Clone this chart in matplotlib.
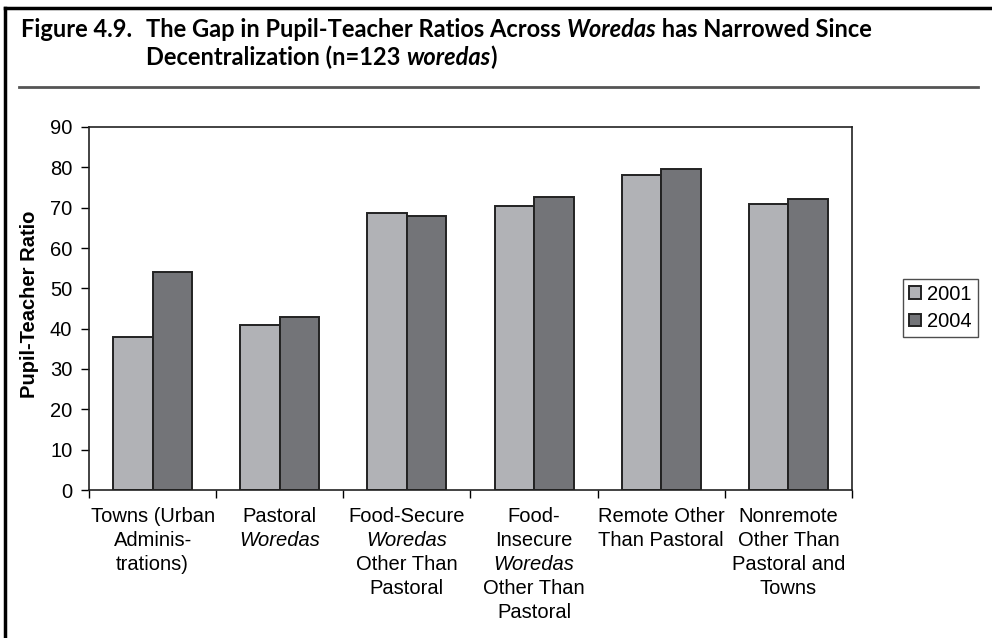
import matplotlib.pyplot as plt
from matplotlib.lines import Line2D
from matplotlib.transforms import blended_transform_factory, offset_copy

plt.rcParams['font.family'] = ['Liberation Sans', 'DejaVu Sans']

# data
categories = [
    ["Towns (Urban", "Adminis-", "trations)"],
    ["Pastoral", "*Woredas"],
    ["Food-Secure", "*Woredas", "Other Than", "Pastoral"],
    ["Food-", "Insecure", "*Woredas", "Other Than", "Pastoral"],
    ["Remote Other", "Than Pastoral"],
    ["Nonremote", "Other Than", "Pastoral and", "Towns"],
]
years = ["2001", "2004"]
ratio_2001 = [38, 41, 68.7, 70.3, 78, 71]
ratio_2004 = [54, 43, 68, 72.7, 79.7, 72.2]
yticks = list(range(0, 91, 10))

W, H = 992, 638
fig = plt.figure(figsize=(W / 100, H / 100), dpi=100)

def fx(px):
    return px / W

def fy(py):
    return 1 - py / H

FS = 14.5

ax = fig.add_axes([fx(89), fy(490), fx(852) - fx(89), fy(127) - fy(490)])

bw = 0.31
xs = range(len(categories))
ax.bar([x - bw / 2 for x in xs], ratio_2001, bw, color='#b1b2b6',
       edgecolor='#222222', linewidth=1.4, label=years[0])
ax.bar([x + bw / 2 for x in xs], ratio_2004, bw, color='#737478',
       edgecolor='#222222', linewidth=1.4, label=years[1])

ax.set_xlim(-0.5, len(categories) - 0.5)
ax.set_ylim(0, 90)
ax.set_yticks(yticks)
ax.tick_params(axis='y', labelsize=FS, length=6, direction='out', width=1, pad=6)
ax.set_xticks([i - 0.5 for i in range(len(categories) + 1)])
ax.set_xticklabels([])
ax.tick_params(axis='x', length=6, direction='out', width=1)
for s in ax.spines.values():
    s.set_linewidth(1.2)
    s.set_color('#222222')

fig.text(fx(30), fy(304), 'Pupil-Teacher Ratio', fontsize=FS, fontweight='bold',
         rotation=90, ha='center', va='center')

# category labels, line by line (italic for lines marked with *)
trans = blended_transform_factory(ax.transData, ax.transAxes)
for i, lines in enumerate(categories):
    for j, line in enumerate(lines):
        style = 'normal'
        if line.startswith('*'):
            line = line[1:]
            style = 'italic'
        t = offset_copy(trans, fig=fig, x=0, y=-(32 + 24 * j) * 0.72, units='points')
        ax.text(i, 0, line, transform=t, ha='center', va='baseline',
                fontsize=FS, style=style)

fig.legend(loc='center left', bbox_to_anchor=(fx(903), fy(308)), fontsize=FS,
           frameon=True, fancybox=False, edgecolor='#222222',
           handlelength=0.6, handleheight=0.6, handletextpad=0.3,
           borderpad=0.3, labelspacing=0.4, borderaxespad=0)

# frame (top and left) and title rule
fig.lines.append(Line2D([fx(4.5), fx(4.5)], [0, fy(8)], transform=fig.transFigure,
                        color='black', linewidth=2.5, solid_capstyle='projecting'))
fig.lines.append(Line2D([fx(4.5), 1], [fy(8), fy(8)], transform=fig.transFigure,
                        color='black', linewidth=2.5, solid_capstyle='projecting'))
fig.lines.append(Line2D([fx(19), fx(978)], [fy(87), fy(87)], transform=fig.transFigure,
                        color='#555555', linewidth=2))

# title pieces
renderer = fig.canvas.get_renderer()
tkw = dict(fontsize=17, fontweight='bold', family=['Lato', 'DejaVu Sans'],
           va='baseline', ha='left')

def put(pieces, x0, y0):
    x = x0
    for txt, st in pieces:
        t = fig.text(fx(x), fy(y0), txt, style=st, **tkw)
        x += t.get_window_extent(renderer).width
    return x

fig_lab = fig.text(fx(21), fy(37), "Figure 4.9.", **tkw)
indent = 21 + fig_lab.get_window_extent(renderer).width + 14
put([("The Gap in Pupil-Teacher Ratios Across ", 'normal'),
     ("Woredas", 'italic'), (" has Narrowed Since", 'normal')], indent, 37)
put([("Decentralization (n=123 ", 'normal'), ("woredas", 'italic'), (")", 'normal')],
    indent, 65)

fig.savefig('out.png', dpi=100)
